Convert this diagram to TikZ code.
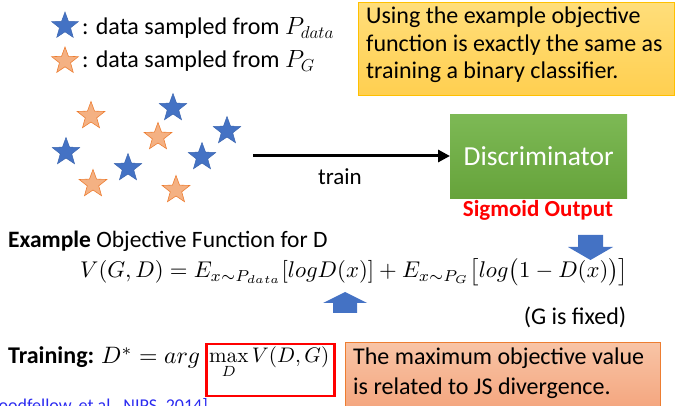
\documentclass[tikz,border=0pt]{standalone}
\usepackage[no-math]{fontspec}
\setmainfont{Carlito}
\usetikzlibrary{shapes.geometric,arrows.meta}
\definecolor{starblue}{HTML}{4472C4}
\definecolor{starorange}{HTML}{F4B183}
\definecolor{orangeline}{HTML}{ED7D31}
\definecolor{greentop}{HTML}{7DB955}
\definecolor{greenbot}{HTML}{66A33B}
\definecolor{yellowtop}{HTML}{FFDE7A}
\definecolor{yellowbot}{HTML}{FFCF50}
\definecolor{yellowline}{HTML}{FFC000}
\definecolor{salmontop}{HTML}{F8C4A6}
\definecolor{salmonbot}{HTML}{F4A47C}
\definecolor{citeblue}{HTML}{2B2BF0}
\tikzset{
  bstar/.style={star, star points=5, star point ratio=2.4, minimum size=29pt, inner sep=0pt, fill=starblue, draw=starblue!90!black, line width=0.5pt},
  ostar/.style={star, star points=5, star point ratio=2.4, minimum size=29pt, inner sep=0pt, fill=starorange, draw=orangeline, line width=0.6pt},
  lstar/.style={minimum size=28pt},
  txt/.style={inner sep=0pt, anchor=west, font=\fontsize{24}{28}\selectfont},
  blockarrow/.style={fill=starblue, draw=none},
}
\begin{document}
\begin{tikzpicture}[x=1pt,y=-1pt]
\useasboundingbox (0,0) rectangle (689,406);
\begin{scope}
\clip (0,0) rectangle (689,406);
% legend
\node[bstar, lstar] (lb) at (65,26) {};
\node[ostar, lstar] (lo) at (65,61) {};
\node[txt] (lbt) at (82,28) {: data sampled from $P_{data}$};
\node[txt] (lot) at (82,61) {: data sampled from $P_{G}$};
% yellow box
\node[anchor=north west, minimum width=316pt, minimum height=93pt, inner sep=0pt,
      top color=yellowtop, bottom color=yellowbot, draw=yellowline, line width=0.8pt] (ybox) at (358,2) {};
\node[anchor=north west, inner sep=0pt, align=left, font=\fontsize{24}{27.5}\selectfont] (ytext) at (366,7)
  {Using the example objective\\function is exactly the same as\\training a binary classifier.};
% scattered stars
\node[ostar] (s1) at (91,116) {};
\node[bstar] (s2) at (66,152) {};
\node[ostar] (s3) at (93,184) {};
\node[bstar] (s4) at (128,168) {};
\node[bstar] (s5) at (173,108) {};
\node[ostar] (s6) at (158,137) {};
\node[bstar] (s7) at (202,157) {};
\node[bstar] (s8) at (227,131) {};
\node[ostar] (s9) at (176,190) {};
% discriminator
\node[anchor=north west, minimum width=177pt, minimum height=84pt, inner sep=0pt,
      top color=greentop, bottom color=greenbot, draw=none,
      text=white, font=\fontsize{27.5}{32}\selectfont] (disc) at (450,114) {Discriminator};
\coordinate (trainstart) at (253,156);
\draw[line width=3pt, -{Triangle[length=12pt,width=12pt]}] (trainstart) -- (disc.west |- trainstart);
\node[font=\fontsize{23}{27}\selectfont, inner sep=0pt] (trainlbl) at (340,177) {train};
\node[font=\bfseries\fontsize{23}{27}\selectfont, text=red, inner sep=0pt] (sig) at (538,210) {Sigmoid Output};
% example objective
\node[txt, font=\fontsize{23.5}{28}\selectfont] (ex) at (8,241) {\textbf{Example} Objective Function for D};
\node[inner sep=0pt, anchor=west] (eq) at (80,272)
  {\resizebox{548pt}{!}{$V(G,D)=E_{x\sim P_{data}}[logD(x)]+E_{x\sim P_G}\bigl[log\bigl(1-D(x)\bigr)\bigr]$}};
% block arrows
\fill[blockarrow] (578,235) -- (603,235) -- (603,247) -- (613,247) -- (590.5,260) -- (568,247) -- (578,247) -- cycle;
\fill[blockarrow] (333,313) -- (357,313) -- (357,303) -- (367,303) -- (345,292) -- (323,303) -- (333,303) -- cycle;
\node[font=\fontsize{24}{28}\selectfont, inner sep=0pt] (fixed) at (575,317) {(G is fixed)};
% training
\node[txt, font=\bfseries\fontsize{24}{28}\selectfont] (tr) at (8,357) {Training:};
\node[inner sep=0pt, anchor=west] (dstar) at (101,358) {\resizebox{99pt}{!}{$D^*=arg$}};
\node[draw=red, line width=2.5pt, anchor=north west, minimum width=128pt, minimum height=52pt, inner sep=0pt] (rbox) at (205,343) {};
\node[inner sep=0pt, anchor=north west] (maxv) at (209,347) {\resizebox{120pt}{!}{$\displaystyle\max_D V(D,G)$}};
% salmon box
\node[anchor=north west, minimum width=315pt, minimum height=70pt, inner sep=0pt,
      top color=salmontop, bottom color=salmonbot, draw=orangeline, line width=0.8pt] (sbox) at (345,342) {};
\node[anchor=north west, inner sep=0pt, align=left, font=\fontsize{24}{30}\selectfont] (stext) at (353,348)
  {The maximum objective value\\is related to JS divergence.};
% citation
\node[anchor=north east, inner sep=0pt, text=citeblue, font=\fontsize{18}{21}\selectfont] (cite) at (208,398) {[Goodfellow, et al., NIPS, 2014]};
\end{scope}
\end{tikzpicture}
\end{document}
